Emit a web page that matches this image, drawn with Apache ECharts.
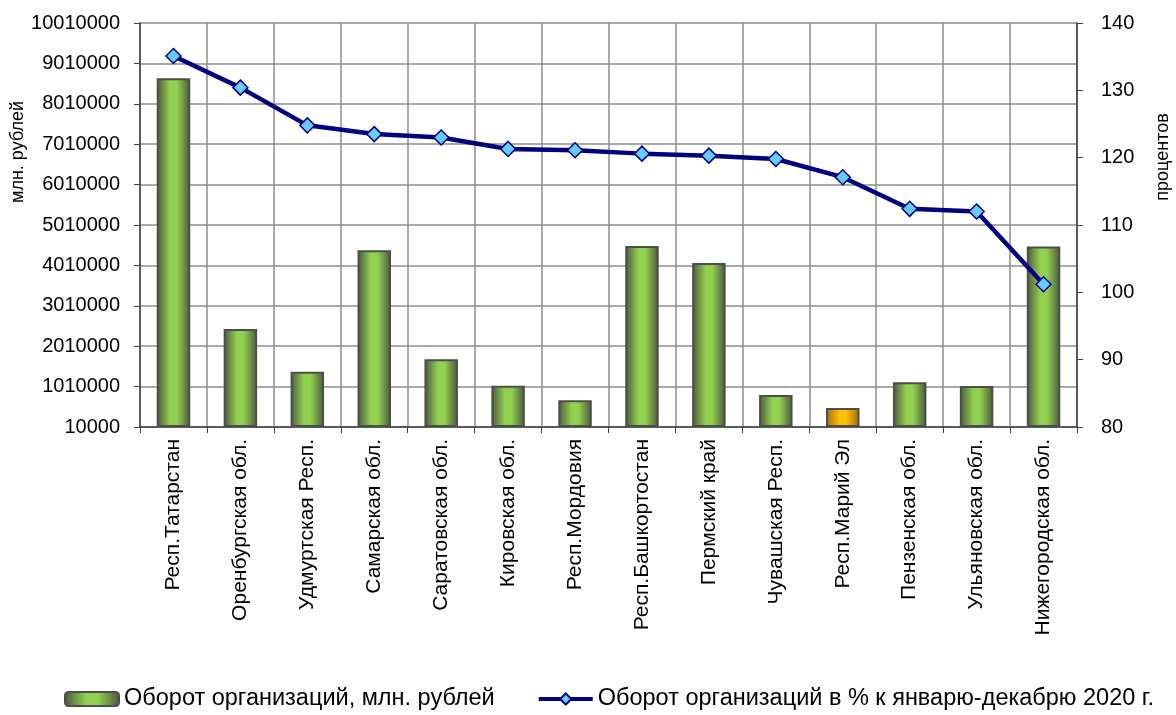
<!DOCTYPE html>
<html><head><meta charset="utf-8">
<script src="https://cdn.jsdelivr.net/npm/echarts@6/dist/echarts.min.js"></script>
<style>html,body{margin:0;padding:0;background:#fff}#c{width:1176px;height:715px}</style>
</head><body><div id="c"></div>
<script>
const categories = ['Респ.Татарстан','Оренбургская обл.','Удмуртская Респ.','Самарская обл.','Саратовская обл.','Кировская обл.','Респ.Мордовия','Респ.Башкортостан','Пермский край','Чувашская Респ.','Респ.Марий Эл','Пензенская обл.','Ульяновская обл.','Нижегородская обл.'];
const turnover = [8640000,2435000,1380000,4385000,1685000,1030000,670000,4490000,4070000,800000,480000,1115000,1025000,4475000];
const percent = [135.1,130.4,124.8,123.5,123.0,121.3,121.1,120.6,120.3,119.8,117.1,112.4,112.0,101.2];
const highlightIndex = 10;
const leftMin = 10000, leftMax = 10010000, leftStep = 1000000;
const rightMin = 80, rightMax = 140, rightStep = 10;
const barName = 'Оборот организаций, млн. рублей';
const lineName = 'Оборот организаций в % к январю-декабрю 2020 г.';

const font = '"Liberation Sans", Arial, sans-serif';
function grad(edge, mid){
  return new echarts.graphic.LinearGradient(0,0,1,0,[
    {offset:0,color:edge},{offset:0.4,color:mid},{offset:0.6,color:mid},{offset:1,color:edge}]);
}
const green = grad('#4b573d','#92d050');
const orange = grad('#9c6a10','#ffc000');

const chart = echarts.init(document.getElementById('c'));
chart.setOption({
  animation:false,
  textStyle:{fontFamily:font},
  grid:{left:140,right:99,top:23,bottom:288,containLabel:false},
  legend:{
    top:687,left:64,itemWidth:54,itemHeight:14,itemGap:42,padding:[0,0,0,0],
    textStyle:{fontFamily:font,fontSize:23.5,color:'#000'},
    data:[barName,{name:lineName,lineStyle:{width:4}}]
  },
  xAxis:{
    type:'category',data:categories,boundaryGap:true,
    axisLine:{lineStyle:{color:'#404040',width:1.5}},
    axisTick:{show:true,length:6,lineStyle:{color:'#404040'}},
    axisLabel:{rotate:90,margin:12,fontSize:21,color:'#000',fontFamily:font,interval:0},
    splitLine:{show:true,lineStyle:{color:'#8c8c8c',width:1.5}}
  },
  yAxis:[{
    type:'value',min:0,max:leftMax-leftMin,interval:leftStep,
    axisLine:{show:true,lineStyle:{color:'#404040',width:1.5}},
    axisTick:{show:true,length:6,lineStyle:{color:'#404040'}},
    axisLabel:{margin:20,fontSize:20,color:'#000',fontFamily:font,formatter:v=>String(v+leftMin)},
    splitLine:{show:true,lineStyle:{color:'#8c8c8c',width:1.5}}
  },{
    type:'value',min:rightMin,max:rightMax,interval:rightStep,position:'right',
    axisLine:{show:true,lineStyle:{color:'#404040',width:1.5}},
    axisTick:{show:true,length:6,lineStyle:{color:'#404040'}},
    axisLabel:{margin:24,fontSize:20,color:'#000',fontFamily:font},
    splitLine:{show:false}
  }],
  graphic:[
    {type:'text',x:18,y:152,rotation:Math.PI/2,style:{text:'млн. рублей',font:'18px '+font,fill:'#000',textAlign:'center',textVerticalAlign:'middle'}},
    {type:'text',x:1163,y:157,rotation:Math.PI/2,style:{text:'процентов',font:'18px '+font,fill:'#000',textAlign:'center',textVerticalAlign:'middle'}}
  ],
  series:[{
    name:barName,type:'bar',yAxisIndex:0,barWidth:'50%',
    itemStyle:{color:green,borderColor:'#4d4d4d',borderWidth:2},
    data:turnover.map((v,i)=>i===highlightIndex?{value:v-leftMin,itemStyle:{color:orange}}:v-leftMin)
  },{
    name:lineName,type:'line',yAxisIndex:1,data:percent,
    symbol:'diamond',symbolSize:15,
    lineStyle:{color:'#000080',width:4.5},
    itemStyle:{color:'#66ccff',borderColor:'#000080',borderWidth:1.5},
    z:5
  }]
});
</script></body></html>
